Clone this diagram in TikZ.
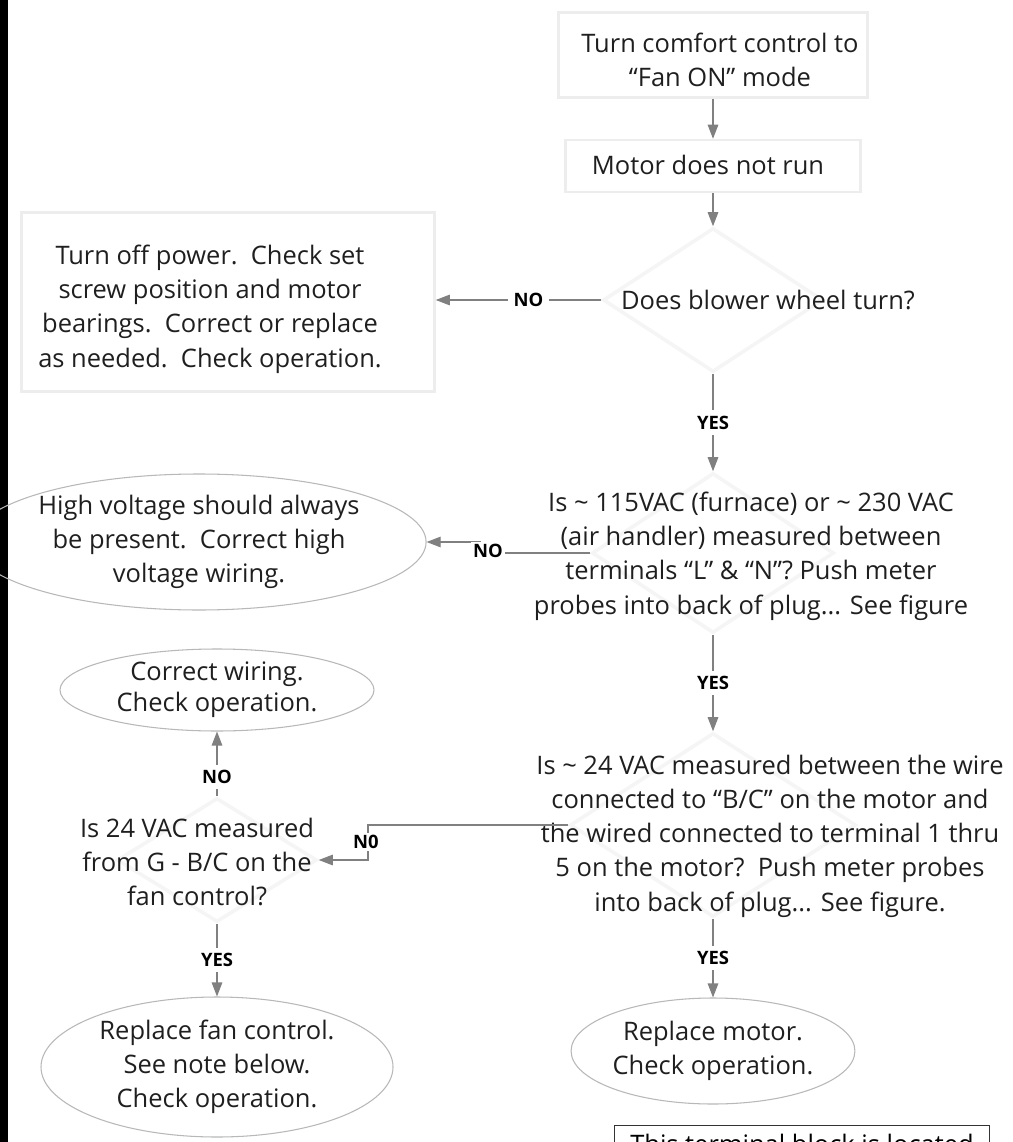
\documentclass[tikz,border=0pt]{standalone}
\usepackage{fontspec}
\setmainfont{Open Sans}
\usetikzlibrary{arrows.meta,shapes.geometric}
\newcommand{\arr}{-{Triangle[length=8pt,width=6pt]}}
\newcommand{\txtsize}{\fontsize{14.5}{19.5}\selectfont}

\begin{document}
\begin{tikzpicture}[x=0.02cm,y=-0.02cm,
  sz/.style 2 args={minimum width=#1*0.02cm,minimum height=#2*0.02cm},
  txt/.style={align=center,font=\txtsize,text=black!88,inner sep=0pt},
  boxed/.style={draw=black!7,line width=1.4pt,inner sep=0pt},
  dia/.style={diamond,draw=black!4,line width=2pt,inner sep=0pt},
  oval/.style={ellipse,draw=black!28,line width=0.6pt,inner sep=0pt,align=center,font=\txtsize,text=black!88},
  lbl/.style={font=\bfseries\fontsize{10.5}{12}\selectfont,fill=white,inner sep=3pt},
  conn/.style={draw=black!50,line width=0.7pt}]
\useasboundingbox (0,0) rectangle (1013,1142);
\clip (0,0) rectangle (1013,1142);
\fill[white] (0,0) rectangle (1013,1142);
\fill[black] (0,0) rectangle (8,1142);
%right column
\node[boxed,sz={309}{85}] (b1) at (713,55) {};
\node[txt] (t1) at (720,60) {Turn comfort control to\\“Fan ON” mode};
\node[boxed,sz={295}{52}] (b2) at (713,166) {};
\node[txt] (t2) at (708,165) {Motor does not run};
\node[dia,sz={220}{144}] (d1) at (713,300) {};
\node[txt] (q1) at (768,300) {Does blower wheel turn?};
\node[dia,sz={242}{160}] (d2) at (713,553) {};
\node[txt] (q2) at (751,556) {Is \textasciitilde{} 115VAC (furnace) or \textasciitilde{} 230 VAC\\(air handler) measured between\\terminals “L” \& “N”? Push meter\\probes into back of plug... See figure};
\node[dia,sz={286}{184}] (d4) at (713,825) {};
\node[txt] (q4) at (770,836) {Is \textasciitilde{} 24 VAC measured between the wire\\connected to “B/C” on the motor and\\the wired connected to terminal 1 thru\\5 on the motor?\ \ Push meter probes\\into back of plug... See figure.};
\node[oval,sz={248}{106}] (rm) at (713,1051) {Replace motor.\\Check operation.};
\node[draw=black!80,line width=0.8pt,font=\txtsize,minimum width=7.5cm,inner ysep=0.16cm,anchor=north] (nb) at (802,1125) {This terminal block is located};
%left column
\node[boxed,sz={413}{179}] (b3) at (228,302) {};
\node[txt] (t3) at (210,309) {Turn off power.\ \ Check set\\screw position and motor\\bearings.\ \ Correct or replace\\as needed.\ \ Check operation.};
\node[oval,sz={381}{136}] (hv) at (199,542) {High voltage should always\\be present.\ \ Correct high\\voltage wiring.};
\node[oval,sz={314}{82},font=\fontsize{14.5}{17.5}\selectfont] (cw) at (217,690) {Correct wiring.\\Check operation.};
\node[dia,sz={200}{124}] (d3) at (217,860) {};
\node[txt] (q3) at (197,862) {Is 24 VAC measured\\from G - B/C on the\\fan control?};
\node[oval,sz={352}{140}] (fc) at (217,1067) {Replace fan control.\\See note below.\\Check operation.};
%connectors
\draw[conn,\arr] (b1) -- (b2);
\draw[conn,\arr] (b2) -- (d1);
\draw[conn,\arr] (d1.west) -- node[lbl,pos=0.44] {NO} (d1.west -| b3.east);
\draw[conn,\arr] (d1) -- node[lbl] {YES} (d2);
\coordinate (k2) at (480,553);
\draw[conn,\arr] (d2.west) -- (k2) |- (hv.east);
\node[lbl,inner sep=1pt] (n2) at (488,551) {NO};
\draw[conn,\arr] (d2) -- node[lbl] {YES} (d4);
\coordinate (k4) at (368,825);
\draw[conn,\arr] (d4.west) -- (k4) |- (d3.east);
\node[lbl,inner sep=1pt] (n4) at (366,842) {N0};
\draw[conn,\arr] (d3) -- node[lbl,pos=0.3] {NO} (cw);
\draw[conn,\arr] (d3) -- node[lbl] {YES} (fc);
\draw[conn,\arr] (d4) -- node[lbl] {YES} (rm);
\end{tikzpicture}
\end{document}
